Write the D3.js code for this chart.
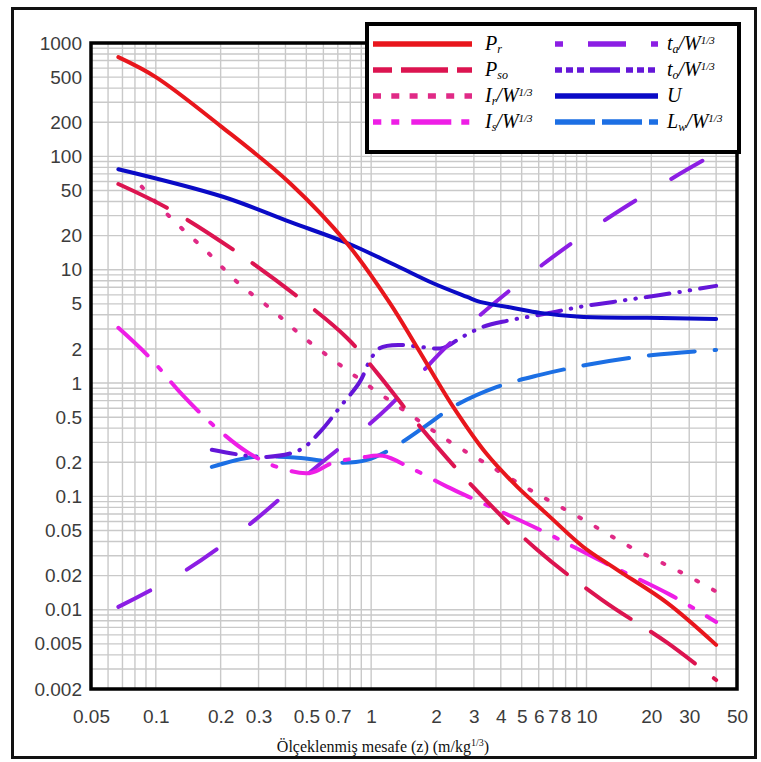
<!DOCTYPE html>
<html><head><meta charset="utf-8">
<script src="https://cdn.jsdelivr.net/npm/d3@7"></script>
<style>body{margin:0;background:#fff}svg{display:block}</style>
</head><body>
<svg id="c" width="761" height="762"></svg>
<script>
// ---- data ----
const xTickValues = [0.05,0.1,0.2,0.3,0.5,0.7,1,2,3,4,5,6,7,8,10,20,30,50];
const yTickValues = [1000,500,200,100,50,20,10,5,2,1,0.5,0.2,0.1,0.05,0.02,0.01,0.005,0.002];

const Pr_x  = [0.067,0.1,0.2,0.42,0.77,1.22,1.63,2.4,3.45,4.76,6.77,9.64,13.9,23.7,40];
const Pr_y  = [750,500,185,58,17.2,5.1,2.08,0.62,0.235,0.122,0.066,0.036,0.0225,0.0115,0.0049];
const Pso_x = [0.067,0.113,0.229,0.457,0.773,1.065,1.63,2.97,5.9,11.8,23.7,40];
const Pso_y = [57,35,15,5.75,2.5,1.23,0.446,0.122,0.0338,0.01225,0.00512,0.0024];
const Ir_x  = [0.086,0.12,0.173,0.241,0.347,0.483,0.695,0.99,1.41,2.32,3.31,5.47,9.33,15.9,27.2,40];
const Ir_y  = [54,27.5,14.4,7.65,4.42,2.55,1.51,0.925,0.58,0.303,0.202,0.114,0.0648,0.036,0.0216,0.0145];
const Is_x  = [0.067,0.094,0.129,0.184,0.265,0.366,0.52,0.665,0.887,1.135,1.52,2.25,3.04,6.09,11.9,24.4,40];
const Is_y  = [3.07,1.67,0.836,0.428,0.247,0.182,0.161,0.198,0.219,0.228,0.179,0.122,0.0933,0.0507,0.0265,0.0136,0.0078];
const ta_x  = [0.067,0.134,0.271,0.537,1.1,1.567,2.16,3.1,6.22,12.6,25.2,40];
const ta_y  = [0.0106,0.0216,0.0562,0.172,0.525,1.03,1.96,3.76,11.0,28.6,64.5,107];
const to_x  = [0.182,0.246,0.328,0.468,0.579,0.718,0.887,0.99,1.1,1.36,1.7,2.16,2.6,3.3,4.3,6.5,9.33,13.3,19.1,27.2,40];
const to_y  = [0.258,0.233,0.223,0.258,0.371,0.617,1.03,1.6,2.04,2.17,2.08,2.04,2.5,3.13,3.55,4.1,4.7,5.2,5.75,6.37,7.2];
const U_x   = [0.067,0.205,0.42,0.773,1.29,1.94,2.79,3.2,4.56,6.09,9.33,19.1,40];
const U_y   = [77,44,26.4,17.2,11.0,7.6,5.75,5.2,4.6,4.16,3.84,3.76,3.68];
const Lw_x  = [0.182,0.283,0.453,0.74,0.957,1.22,1.82,2.4,3.84,6.09,10.1,20.4,40];
const Lw_y  = [0.182,0.223,0.219,0.198,0.21,0.258,0.428,0.617,0.925,1.18,1.45,1.77,1.96];

// ---- styles ----
const series = [
  {id:"Lw",  xs:Lw_x,  ys:Lw_y,  color:"#1c6fe4", dash:"46,20",               ldash:"40,7",  loff:0,    col:1,row:3, label:[["L"],["w","sub"],["/W"],["1/3","sup"]]},
  {id:"to",  xs:to_x,  ys:to_y,  color:"#6416d8", dash:"24,10,0.5,10,0.5,10", ldash:"7,4,7,4,7,6,30,6", loff:0, col:1,row:1, label:[["t"],["o","sub"],["/W"],["1/3","sup"]]},
  {id:"ta",  xs:ta_x,  ys:ta_y,  color:"#8c1ee4", dash:"36,42",               ldash:"38,25", loff:30,   col:1,row:0, label:[["t"],["a","sub"],["/W"],["1/3","sup"]]},
  {id:"Is",  xs:Is_x,  ys:Is_y,  color:"#ee1ee6", dash:"40,16,4,16",          ldash:"40,10,8,12", loff:31.7, col:0,row:3, label:[["I"],["s","sub"],["/W"],["1/3","sup"]]},
  {id:"Ir",  xs:Ir_x,  ys:Ir_y,  color:"#e02a86", dash:"2,17",                ldash:"8,10.3", loff:0,  col:0,row:2, label:[["I"],["r","sub"],["/W"],["1/3","sup"]]},
  {id:"Pso", xs:Pso_x, ys:Pso_y, color:"#dc1450", dash:"54,24",               ldash:"47,9",  loff:28,   col:0,row:1, label:[["P"],["so","sub"]]},
  {id:"U",   xs:U_x,   ys:U_y,   color:"#0a0ac6", dash:null,                  ldash:null,    loff:0,    col:1,row:2, label:[["U"]]},
  {id:"Pr",  xs:Pr_x,  ys:Pr_y,  color:"#e8161c", dash:null,                  ldash:null,    loff:0,    col:0,row:0, label:[["P"],["r","sub"]]}
];

const svg = d3.select("#c");
const x = d3.scaleLog().domain([0.05,50]).range([91,737]);
const y = d3.scaleLog().domain([0.002,1000]).range([689,43]);

// outer frame
svg.append("rect").attr("x",12.5).attr("y",8.5).attr("width",743).attr("height",749)
  .attr("fill","#fff").attr("stroke","#111").attr("stroke-width",3);

// grid
const g = svg.append("g");
g.selectAll("line.gx").data(x.ticks()).join("line")
  .attr("x1",d=>x(d)).attr("x2",d=>x(d)).attr("y1",y.range()[1]).attr("y2",y.range()[0])
  .attr("stroke","#c9c9c9").attr("stroke-width",1.4);
g.selectAll("line.gy").data(y.ticks()).join("line")
  .attr("y1",d=>y(d)).attr("y2",d=>y(d)).attr("x1",x.range()[0]).attr("x2",x.range()[1])
  .attr("stroke","#c9c9c9").attr("stroke-width",1.4);

// curves
const line = d3.line().x(d=>x(d[0])).y(d=>y(d[1])).curve(d3.curveCatmullRom.alpha(0.5));
series.forEach(s=>{
  const pts = s.xs.map((v,i)=>[v,s.ys[i]]);
  svg.append("path").datum(pts).attr("d",line)
    .attr("fill","none").attr("stroke",s.color).attr("stroke-width",4)
    .attr("stroke-linecap","round").attr("stroke-linejoin","round")
    .attr("stroke-dasharray",s.dash);
});

// plot frame
svg.append("rect").attr("x",91).attr("y",43).attr("width",646).attr("height",646)
  .attr("fill","none").attr("stroke","#000").attr("stroke-width",3.5);

// axes
const fmt = d=>String(+d.toPrecision(3));
const ya = svg.append("g").attr("transform","translate(91,0)")
  .call(d3.axisLeft(y).tickValues(yTickValues).tickFormat(fmt).tickSize(0).tickPadding(9));
const xa = svg.append("g").attr("transform","translate(0,689)")
  .call(d3.axisBottom(x).tickValues(xTickValues).tickFormat(fmt).tickSize(0).tickPadding(21));
[ya,xa].forEach(a=>{
  a.select(".domain").remove();
  a.selectAll("text").attr("font-family","Liberation Sans, Arial, sans-serif")
    .attr("font-size",19).attr("fill","#3c3c3c");
});

// x title
const tt = svg.append("text").attr("x",383).attr("y",752).attr("text-anchor","middle")
  .attr("font-family","Liberation Serif, Times New Roman, serif").attr("font-size",16).attr("fill","#111");
tt.append("tspan").text("Ölçeklenmiş mesafe (z) (m/kg");
tt.append("tspan").attr("baseline-shift","6").attr("font-size",10).text("1/3");
tt.append("tspan").text(")");

// legend
const lg = svg.append("g");
lg.append("rect").attr("x",367).attr("y",24).attr("width",372).attr("height",128)
  .attr("fill","#fff").attr("stroke","#000").attr("stroke-width",4);
const colLineX = [[373,472],[555,658]];
const colTextX = [485,667];
const rowY = [44,70,96,122];
series.forEach(s=>{
  const [x1,x2] = colLineX[s.col];
  const yy = rowY[s.row];
  lg.append("line").attr("x1",x1).attr("x2",x2).attr("y1",yy).attr("y2",yy)
    .attr("stroke",s.color).attr("stroke-width",5.5)
    .attr("stroke-dasharray",s.ldash).attr("stroke-dashoffset",s.loff);
  const t = lg.append("text").attr("x",colTextX[s.col]).attr("y",yy+6)
    .attr("font-family","Liberation Serif, Times New Roman, serif").attr("font-style","italic")
    .attr("font-size",20).attr("fill","#000");
  s.label.forEach(([txt,kind])=>{
    const ts = t.append("tspan").text(txt);
    if(kind==="sub") ts.attr("baseline-shift","-3").attr("font-size",12);
    if(kind==="sup") ts.attr("baseline-shift","6").attr("font-size",11);
  });
});
</script>
</body></html>
